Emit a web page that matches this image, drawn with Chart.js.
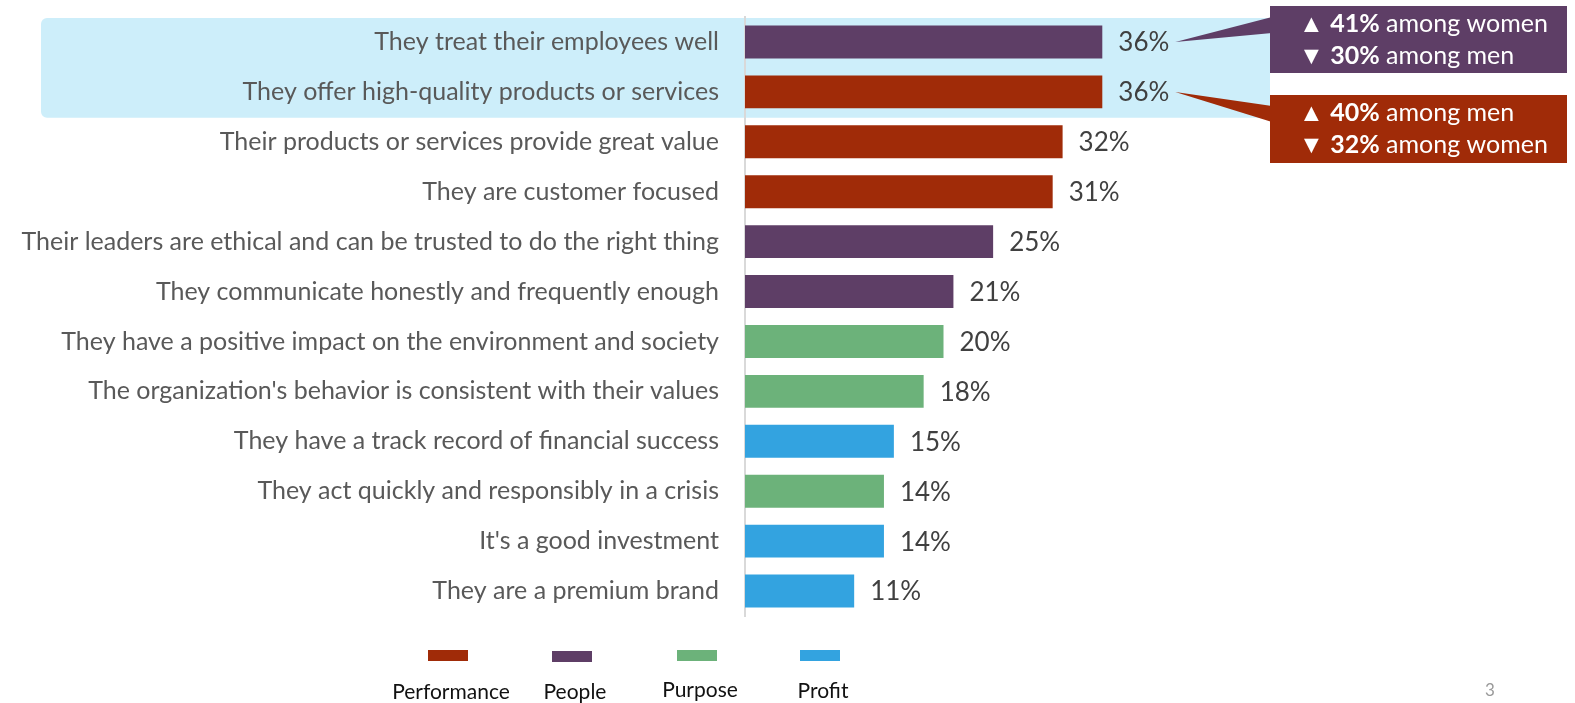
<!DOCTYPE html>
<html>
<head>
<meta charset="utf-8">
<script src="https://cdn.jsdelivr.net/npm/chart.js@4.4.1/dist/chart.umd.min.js"></script>
<style>
  html, body { margin: 0; padding: 0; background: #fff; }
  #wrap { width: 1575px; height: 703px; position: relative; }
</style>
</head>
<body>
<div id="wrap"><canvas id="reasonsChart" width="1575" height="703"></canvas></div>
<script>
// Datos del gráfico
const categories = [
  "They treat their employees well",
  "They offer high-quality products or services",
  "Their products or services provide great value",
  "They are customer focused",
  "Their leaders are ethical and can be trusted to do the right thing",
  "They communicate honestly and frequently enough",
  "They have a positive impact on the environment and society",
  "The organization's behavior is consistent with their values",
  "They have a track record of financial success",
  "They act quickly and responsibly in a crisis",
  "It's a good investment",
  "They are a premium brand"
];
const values = [36, 36, 32, 31, 25, 21, 20, 18, 15, 14, 14, 11];
const groupOf = ["People", "Performance", "Performance", "Performance", "People", "People",
                 "Purpose", "Purpose", "Profit", "Purpose", "Profit", "Profit"];
const groups = ["Performance", "People", "Purpose", "Profit"];
const groupColors = ["#A02B08", "#5E3E66", "#6CB27A", "#33A3E0"];

// Notas por género para las dos primeras filas
const calloutRows = [0, 1];
const calloutLines = [
  [["▲ ", "41%", " among women"], ["▼ ", "30%", " among men"]],
  [["▲ ", "40%", " among men"], ["▼ ", "32%", " among women"]]
];

const FONT = "Lato, 'Noto Sans', sans-serif";
const barColors = groupOf.map(g => groupColors[groups.indexOf(g)]);
const AXIS_X = 742;

// Fondo azul claro detrás de las dos primeras filas
const highlightPlugin = {
  id: 'highlight',
  beforeDraw(chart) {
    const ctx = chart.ctx;
    const y = chart.scales.y;
    const step = y.height / categories.length;
    const top = y.getPixelForValue(0) - step / 2;
    const bottom = y.getPixelForValue(1) + step / 2;
    ctx.save();
    ctx.fillStyle = '#CDEEFA';
    ctx.beginPath();
    ctx.roundRect(41, top + 1, 1270 - 41, bottom - top, [6, 0, 0, 6]);
    ctx.fill();
    ctx.restore();
  }
};

// Etiquetas de valor, notas y leyenda
const annotationsPlugin = {
  id: 'annotations',
  afterDraw(chart) {
    const ctx = chart.ctx;
    const meta = chart.getDatasetMeta(0);
    ctx.save();
    ctx.font = "26px " + FONT;
    ctx.fillStyle = '#404040';
    ctx.textBaseline = 'middle';
    ctx.textAlign = 'left';
    const ends = [];
    meta.data.forEach((bar, i) => {
      const txt = values[i] + '%';
      ctx.fillText(txt, bar.x + 16, bar.y + 1);
      ends.push(bar.x + 16 + ctx.measureText(txt).width + 6);
    });

    // Cajas de notas
    const boxes = [
      { x: 1270, y: 6, h: 67, wedge: [17, 33] },
      { x: 1270, y: 95, h: 68, wedge: [106, 122] }
    ];
    calloutRows.forEach((row, k) => {
      const b = boxes[k];
      const bar = meta.data[row];
      ctx.fillStyle = barColors[row];
      ctx.beginPath();
      ctx.moveTo(ends[row], bar.y);
      ctx.lineTo(b.x + 2, b.wedge[0]);
      ctx.lineTo(b.x + 2, b.wedge[1]);
      ctx.closePath();
      ctx.fill();
      ctx.fillRect(b.x, b.y, 1567 - b.x, b.h);
      ctx.fillStyle = '#fff';
      calloutLines[k].forEach((parts, j) => {
        let x = 1299;
        const ly = b.y + 18 + j * 32;
        parts.forEach((p, n) => {
          ctx.font = (n === 1 ? "bold " : "") + "25px " + FONT;
          ctx.fillText(p, x, ly);
          x += ctx.measureText(p).width;
        });
      });
    });

    // Leyenda
    const legendX = [448, 572, 697, 820];
    const swatchY = [650, 651, 650, 650];
    const textY = [692, 692, 690, 691];
    groups.forEach((g, i) => {
      ctx.fillStyle = groupColors[i];
      ctx.fillRect(legendX[i] - 20, swatchY[i], 40, 11);
      ctx.fillStyle = '#111';
      ctx.font = "21px " + FONT;
      ctx.textAlign = 'center';
      ctx.fillText(g, legendX[i] + 3, textY[i]);
    });

    // Número de página
    ctx.fillStyle = '#999';
    ctx.font = "17px " + FONT;
    ctx.fillText('3', 1490, 691);
    ctx.restore();
  }
};

const ctx = document.getElementById('reasonsChart').getContext('2d');
const reasonsChart = new Chart(ctx, {
  type: 'bar',
  data: {
    labels: categories,
    datasets: [{
      data: values,
      backgroundColor: barColors,
      categoryPercentage: 0.66,
      barPercentage: 1.0
    }]
  },
  options: {
    indexAxis: 'y',
    responsive: false,
    animation: false,
    layout: { padding: { top: 17, bottom: 87, left: 0, right: 1575 - AXIS_X - 400 } },
    scales: {
      x: {
        min: 0,
        max: 40,
        display: false,
        grid: { display: false }
      },
      y: {
        afterFit(scale) {
          scale.width = AXIS_X + 3;
          scale.paddingTop = 0;
          scale.paddingBottom = 0;
        },
        grid: { display: false, drawTicks: false },
        border: { display: true, color: '#D9D9D9', width: 2 },
        ticks: {
          color: '#595959',
          padding: 26,
          font: { family: FONT, size: 25 }
        }
      }
    },
    plugins: {
      legend: { display: false },
      tooltip: { enabled: false }
    }
  },
  plugins: [highlightPlugin, annotationsPlugin]
});
</script>
</body>
</html>
